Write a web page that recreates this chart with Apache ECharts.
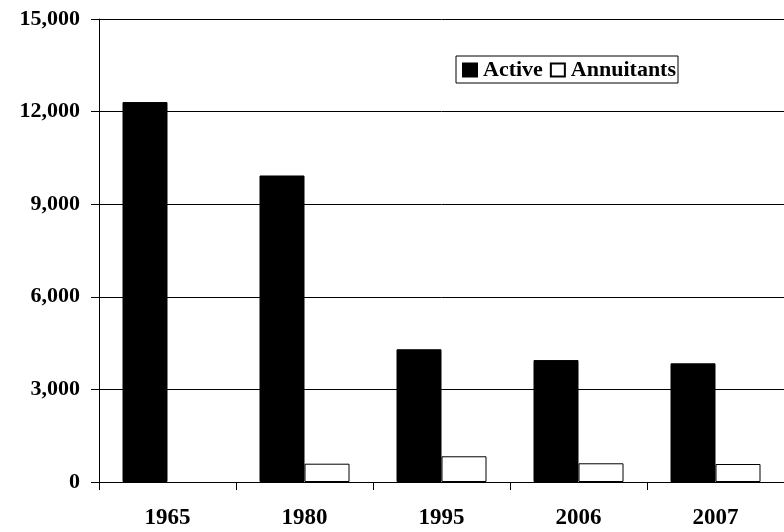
<!DOCTYPE html>
<html>
<head>
<meta charset="utf-8">
<script src="https://cdn.jsdelivr.net/npm/echarts@6/dist/echarts.min.js"></script>
<style>
html,body{margin:0;padding:0;background:#fff;}
#chart{width:784px;height:532px;}
</style>
</head>
<body>
<div id="chart"></div>
<script>
const categories = ['1965', '1980', '1995', '2006', '2007'];
const activeValues = [12310, 9930, 4300, 3950, 3845];
const annuitantValues = [null, 593, 833, 606, 583];
const yTicks = { min: 0, max: 15000, interval: 3000 };

const FONT = "'Liberation Serif', 'Times New Roman', serif";
const chart = echarts.init(document.getElementById('chart'));
chart.setOption({
  animation: false,
  backgroundColor: '#fff',
  textStyle: { fontFamily: FONT, fontWeight: 'bold', color: '#000' },
  grid: { left: 99, top: 19, width: 697.5, height: 463, containLabel: false },
  legend: {
    left: 456, top: 56,
    backgroundColor: '#fff',
    borderColor: '#000', borderWidth: 1,
    padding: [3, 2, 2, 6],
    itemWidth: 14, itemHeight: 13, itemGap: 7,
    icon: 'rect',
    textStyle: { fontFamily: FONT, fontWeight: 'bold', fontSize: 22, color: '#000', padding: [0, 0, 0, 1] },
    data: ['Active', 'Annuitants']
  },
  xAxis: {
    type: 'category',
    data: categories,
    boundaryGap: true,
    axisLine: { lineStyle: { color: '#000', width: 1 } },
    axisTick: { show: true, length: 8, inside: false, lineStyle: { color: '#000' } },
    axisLabel: { margin: 25, fontFamily: FONT, fontWeight: 'bold', fontSize: 23, color: '#000' },
    splitLine: { show: false }
  },
  yAxis: {
    type: 'value',
    min: yTicks.min, max: yTicks.max, interval: yTicks.interval,
    axisLine: { show: true, lineStyle: { color: '#000', width: 1 } },
    axisTick: { show: true, length: 8, inside: false, lineStyle: { color: '#000' } },
    axisLabel: {
      margin: 19, fontFamily: FONT, fontWeight: 'bold', fontSize: 22, color: '#000',
      formatter: v => v.toLocaleString('en-US')
    },
    splitLine: { show: true, lineStyle: { color: '#000', width: 1 } }
  },
  series: [
    {
      name: 'Active', type: 'bar', data: activeValues,
      barWidth: 45, barGap: '0%',
      itemStyle: { color: '#000', borderColor: '#000', borderWidth: 1 }
    },
    {
      name: 'Annuitants', type: 'bar', data: annuitantValues,
      barWidth: 45,
      itemStyle: { color: '#fff', borderColor: '#000', borderWidth: 1 }
    }
  ]
});
</script>
</body>
</html>
